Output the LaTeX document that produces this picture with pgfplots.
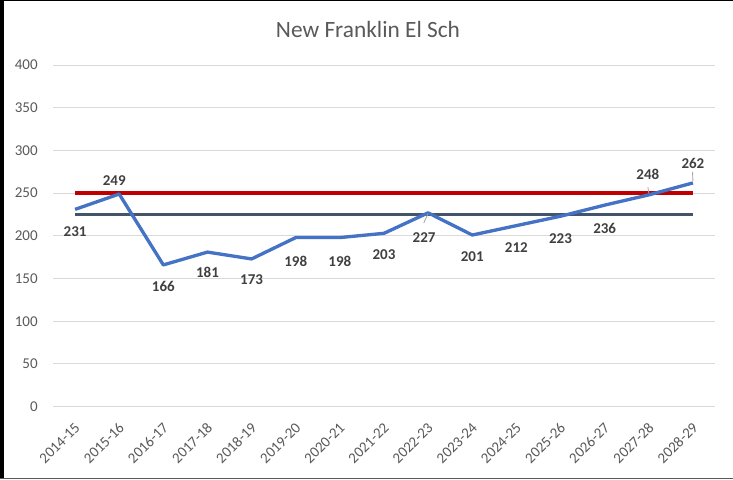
\documentclass[border=0pt]{standalone}
\usepackage{pgfplots}
\usepackage{pgfplotstable}
\pgfplotsset{compat=1.18}
\usepackage{fontspec}
\setmainfont{Carlito}

\definecolor{lineblue}{HTML}{4472C4}
\definecolor{capred}{HTML}{C00000}
\definecolor{avgslate}{HTML}{44546A}
\definecolor{gridgray}{HTML}{D9D9D9}
\definecolor{ticktext}{HTML}{595959}
\definecolor{labeltext}{HTML}{404040}

% enrollment, with label offsets (in px) for each point
\pgfplotstableread{
x y dx dy
0 231 0 -22
1 249 -5 13
2 166 0 -22
3 181 0 -20
4 173 0 -21
5 198 0 -24
6 198 0 -24
7 203 0 -21
8 227 -4 -25
9 201 0 -22
10 212 0 -22
11 223 0 -22
12 236 0 -23
13 248 -1 20
14 262 0 19
}\enroll

\begin{document}
\begin{tikzpicture}
\useasboundingbox ({-53*0.6pt},{-72.3*0.6pt}) rectangle ({680*0.6pt},{406.7*0.6pt});
% frame
\fill[black] ({-53*0.6pt},{-72.3*0.6pt}) rectangle ({-49*0.6pt},{406.7*0.6pt});
\fill[black] ({-53*0.6pt},{405.2*0.6pt}) rectangle ({680*0.6pt},{406.7*0.6pt});
\fill[ticktext] ({-53*0.6pt},{-72.3*0.6pt}) rectangle ({680*0.6pt},{-70.8*0.6pt});
\node[font=\fontsize{14}{17}\selectfont, text=ticktext] at ({315*0.6pt},{377*0.6pt}) {New Franklin El Sch};
\begin{axis}[
    at={(0,0)}, anchor=south west,
    scale only axis,
    width=397.2pt, height=205pt,
    xmin=-0.5, xmax=14.5,
    ymin=0, ymax=400,
    xtick={0,...,14},
    xticklabels={2014-15,2015-16,2016-17,2017-18,2018-19,2019-20,2020-21,2021-22,2022-23,2023-24,2024-25,2025-26,2026-27,2027-28,2028-29},
    ytick={0,50,...,400},
    axis line style={draw=none},
    major tick length=0pt,
    ymajorgrids,
    grid style={gridgray, line width=0.6pt},
    tick label style={font=\fontsize{9}{11}\selectfont, text=ticktext},
    /pgf/number format/assume math mode=true,
    yticklabel style={anchor=east, inner sep=0pt, xshift=-9pt},
    xticklabel style={anchor=east, inner sep=0pt, xshift=1.5pt, yshift=-11pt, rotate=45},
    clip=false,
]
\addplot[capred, line width=2pt] coordinates {(0,250) (14,250)};
\addplot[avgslate, line width=2pt] coordinates {(0,225) (14,225)};
\addplot[lineblue, line width=2pt, line join=round,
    nodes near coords,
    visualization depends on={\thisrow{dx} \as \ldx},
    visualization depends on={\thisrow{dy} \as \ldy},
    nodes near coords style={anchor=center, inner sep=0pt,
        font=\fontsize{9}{11}\selectfont\bfseries, text=labeltext,
        xshift=\ldx*0.6pt, yshift=\ldy*0.6pt},
] table[x=x, y=y] {\enroll};
% leader lines
\draw[gray!70, line width=0.5pt] (axis cs:7.9,215) -- (axis cs:8,226);
\draw[gray!70, line width=0.5pt] (axis cs:12.98,257) -- (axis cs:13,250);
\draw[gray!70, line width=0.5pt] (axis cs:13.99,275) -- (axis cs:14,264.5);
\end{axis}
\end{tikzpicture}
\end{document}
